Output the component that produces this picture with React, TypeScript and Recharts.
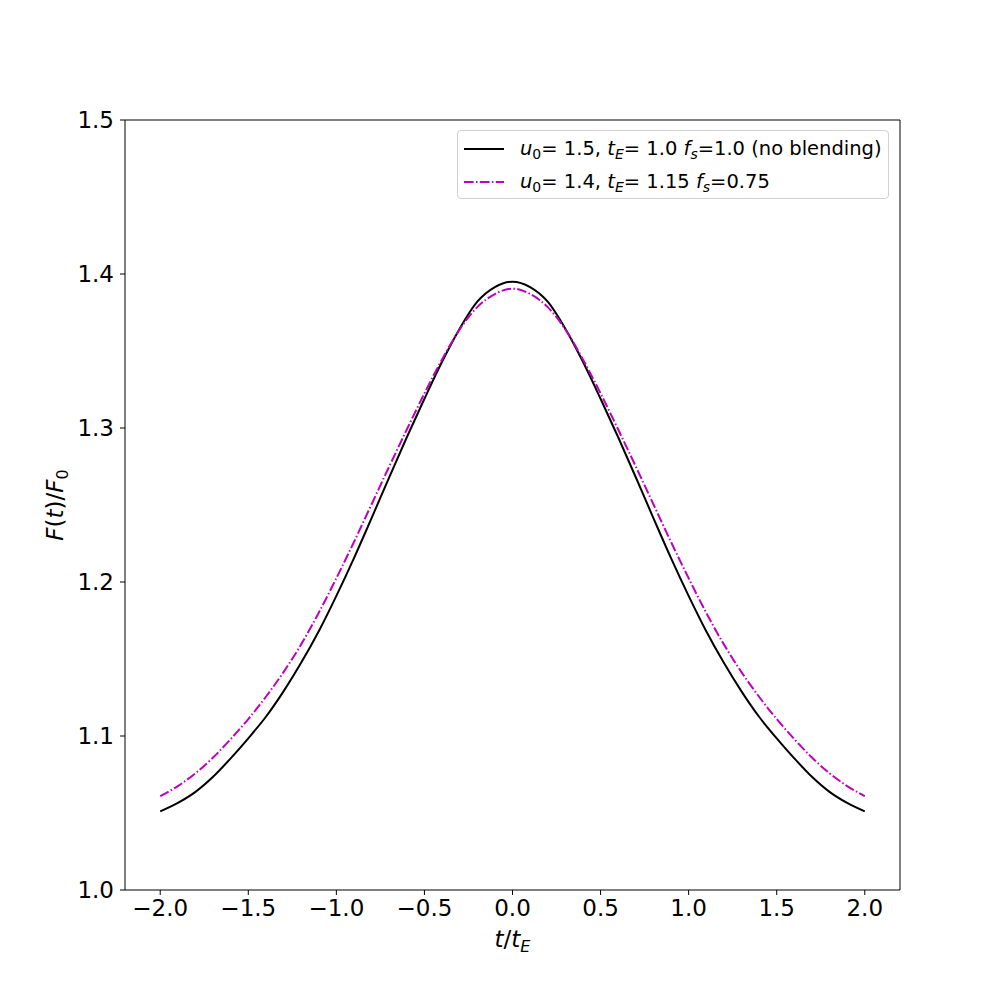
import React from 'react';
import { LineChart, Line, XAxis, YAxis, Legend, ReferenceLine, Label } from 'recharts';

// t / t_E sample points
const tValues = [
  -2.0, -1.9, -1.8, -1.7, -1.6, -1.5, -1.4, -1.3, -1.2, -1.1, -1.0,
  -0.9, -0.8, -0.7, -0.6, -0.5, -0.4, -0.3, -0.2, -0.1, 0.0,
  0.1, 0.2, 0.3, 0.4, 0.5, 0.6, 0.7, 0.8, 0.9, 1.0,
  1.1, 1.2, 1.3, 1.4, 1.5, 1.6, 1.7, 1.8, 1.9, 2.0,
];

// u0=1.5, tE=1.0, fs=1.0 (no blending)
const noBlending = [
  1.051, 1.0565, 1.0637, 1.0735, 1.0855, 1.0985, 1.1125, 1.129, 1.1475, 1.168, 1.191,
  1.2155, 1.2415, 1.268, 1.294, 1.319, 1.343, 1.3645, 1.382, 1.3915, 1.395,
  1.3915, 1.382, 1.3645, 1.343, 1.319, 1.294, 1.268, 1.2415, 1.2155, 1.191,
  1.168, 1.1475, 1.129, 1.1125, 1.0985, 1.0855, 1.0735, 1.0637, 1.0565, 1.051,
];

// u0=1.4, tE=1.15, fs=0.75
const blended = [
  1.061, 1.0675, 1.0758, 1.086, 1.098, 1.111, 1.1255, 1.1415, 1.1595, 1.180, 1.2025,
  1.226, 1.2505, 1.275, 1.299, 1.3225, 1.3445, 1.364, 1.3785, 1.387, 1.3905,
  1.387, 1.3785, 1.364, 1.3445, 1.3225, 1.299, 1.275, 1.2505, 1.226, 1.2025,
  1.180, 1.1595, 1.1415, 1.1255, 1.111, 1.098, 1.086, 1.0758, 1.0675, 1.061,
];

const xTicks = [-2.0, -1.5, -1.0, -0.5, 0.0, 0.5, 1.0, 1.5, 2.0];
const yTicks = [1.0, 1.1, 1.2, 1.3, 1.4, 1.5];

const data = tValues.map((t, i) => ({ t, noBlend: noBlending[i], blend: blended[i] }));

const FONT = '"DejaVu Sans", sans-serif';
const MAGENTA = '#bf00bf';

const fmt = (v: number) => (v < 0 ? '\u2212' + Math.abs(v).toFixed(1) : v.toFixed(1));

const XAxisLabel = (props: any) => {
  const { viewBox } = props;
  const cx = viewBox.x + viewBox.width / 2;
  return (
    <text x={cx} y={viewBox.y + 57} textAnchor="middle" fontSize={23} fontFamily={FONT} fill="#000">
      <tspan fontStyle="italic">t</tspan>
      <tspan>/</tspan>
      <tspan fontStyle="italic">t</tspan>
      <tspan fontStyle="italic" fontSize={16} dy={5}>E</tspan>
    </text>
  );
};

const YAxisLabel = (props: any) => {
  const { viewBox } = props;
  const cy = viewBox.y + viewBox.height / 2;
  const x = viewBox.x + 28;
  return (
    <text x={x} y={cy} transform={`rotate(-90, ${x}, ${cy})`} textAnchor="middle" fontSize={23} fontFamily={FONT} fill="#000">
      <tspan fontStyle="italic">F</tspan>
      <tspan>(</tspan>
      <tspan fontStyle="italic">t</tspan>
      <tspan>)/</tspan>
      <tspan fontStyle="italic">F</tspan>
      <tspan fontSize={16} dy={5}>0</tspan>
    </text>
  );
};

const sub = (s: string, italic = true) => (
  <sub style={{ fontSize: 14, fontStyle: italic ? 'italic' : 'normal', verticalAlign: -4, lineHeight: 0 }}>{s}</sub>
);

const renderLegend = () => (
  <div
    style={{
      fontFamily: FONT,
      fontSize: 19.5,
      color: '#000',
      background: 'rgba(255,255,255,0.8)',
      border: '1px solid #d0d0d0',
      borderRadius: 4,
      boxSizing: 'border-box',
      width: 432,
      height: 69,
      padding: '1px 0 0 5px',
    }}
  >
    <div style={{ display: 'flex', alignItems: 'center', height: 33 }}>
      <svg width={42} height={10} style={{ marginRight: 15 }}>
        <line x1={1} y1={5} x2={41} y2={5} stroke="#000" strokeWidth={2} />
      </svg>
      <span>
        <i>u</i>{sub('0', false)}= 1.5, <i>t</i>{sub('E')}= 1.0 <i>f</i>{sub('s')}=1.0 (no blending)
      </span>
    </div>
    <div style={{ display: 'flex', alignItems: 'center', height: 33 }}>
      <svg width={42} height={10} style={{ marginRight: 15 }}>
        <line x1={1} y1={5} x2={41} y2={5} stroke={MAGENTA} strokeWidth={2} strokeDasharray="9.6 2.4 1.5 2.4" />
      </svg>
      <span>
        <i>u</i>{sub('0', false)}= 1.4, <i>t</i>{sub('E')}= 1.15 <i>f</i>{sub('s')}=0.75
      </span>
    </div>
  </div>
);

export default function App() {
  return (
    <div style={{ position: 'absolute', left: 0, top: 0, width: 1000, height: 1000, background: '#fff' }}>
      <LineChart width={1000} height={1000} data={data} margin={{ top: 120, right: 100, bottom: 50, left: 35 }}>
        <XAxis
          dataKey="t"
          type="number"
          domain={[-2.2, 2.2]}
          ticks={xTicks}
          tickFormatter={fmt}
          height={60}
          stroke="#000"
          tickSize={5}
          tickMargin={5}
          tick={{ fontSize: 23, fontFamily: FONT, fill: '#000' }}
          allowDataOverflow
        >
          <Label content={<XAxisLabel />} />
        </XAxis>
        <YAxis
          type="number"
          domain={[1.0, 1.5]}
          ticks={yTicks}
          tickFormatter={fmt}
          width={90}
          stroke="#000"
          tickSize={5}
          tickMargin={6}
          tick={{ fontSize: 23, fontFamily: FONT, fill: '#000' }}
          allowDataOverflow
        >
          <Label content={<YAxisLabel />} />
        </YAxis>
        <ReferenceLine y={1.5} stroke="#000" strokeWidth={1} />
        <ReferenceLine x={2.2} stroke="#000" strokeWidth={1} />
        <Line
          dataKey="noBlend"
          type="monotone"
          stroke="#000"
          strokeWidth={2}
          dot={false}
          isAnimationActive={false}
        />
        <Line
          dataKey="blend"
          type="monotone"
          stroke={MAGENTA}
          strokeWidth={2}
          strokeDasharray="9.6 2.4 1.5 2.4"
          dot={false}
          isAnimationActive={false}
        />
        <Legend
          layout="horizontal"
          verticalAlign="middle"
          align="center"
          content={renderLegend}
          wrapperStyle={{ top: 130, left: 457, width: 432, height: 69 }}
        />
      </LineChart>
    </div>
  );
}
